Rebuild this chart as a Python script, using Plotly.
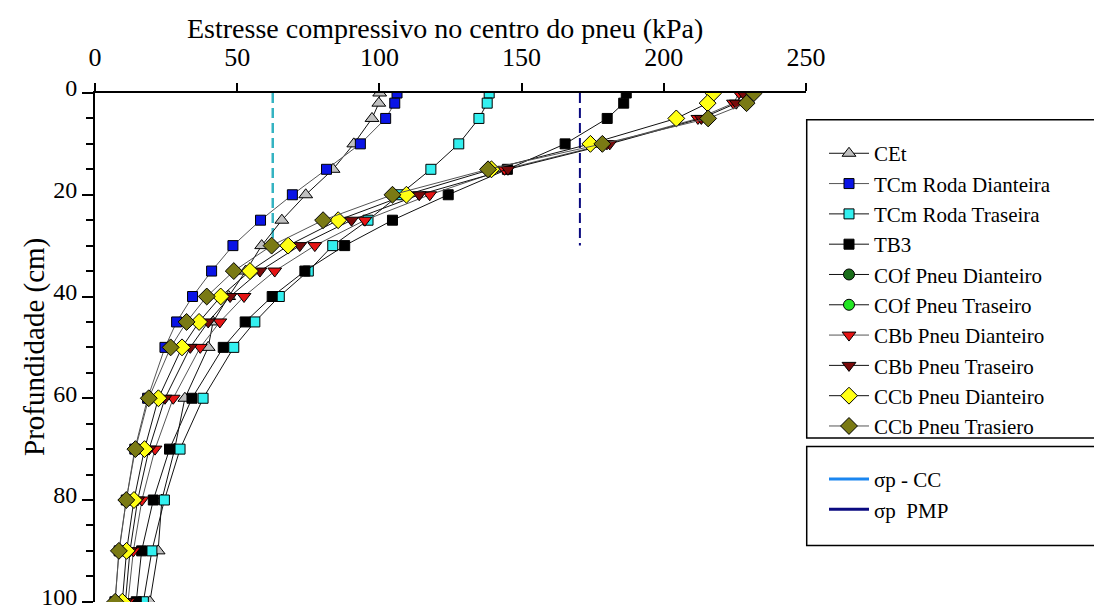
import plotly.graph_objects as go

depth = [0, 2, 5, 10, 15, 20, 25, 30, 35, 40, 45, 50, 60, 70, 80, 90, 100]

cet = [100.1, 99.8, 97.4, 91.0, 83.7, 74.1, 65.7, 58.6, 53.0, 47.0, 41.5, 39.8, 31.6, 28.0, 23.5, 22.2, 19.3]
tcm_dianteira = [106.2, 105.4, 102.2, 93.3, 81.4, 69.4, 58.2, 48.5, 41.0, 34.3, 28.7, 24.6, 18.5, 14.0, 11.0, 8.5, 7.0]
tcm_traseira = [138.6, 137.9, 135.0, 127.9, 118.1, 107.0, 96.0, 83.6, 75.0, 64.8, 56.2, 48.8, 38.0, 29.9, 24.4, 20.0, 17.0]
tb3 = [186.8, 185.9, 180.1, 165.3, 145.0, 124.2, 104.6, 87.8, 73.8, 62.3, 52.8, 45.1, 34.1, 26.2, 20.5, 16.4, 14.5]
cof_dianteiro = [None]
cof_traseiro = [None]
cbb_dianteiro = [226.5, 224.5, 212.0, 180.0, 144.0, 117.7, 94.9, 77.3, 63.2, 52.4, 43.9, 37.0, 27.5, 21.1, 16.5, 13.5, 11.6]
cbb_traseiro = [227.8, 225.5, 213.2, 181.0, 145.2, 114.0, 90.2, 72.0, 58.0, 47.5, 39.8, 33.5, 24.6, 19.0, 15.0, 12.3, 10.7]
ccb_dianteiro = [217.4, 215.4, 204.4, 174.2, 139.4, 109.5, 85.5, 67.9, 54.5, 44.2, 36.6, 30.6, 22.3, 17.4, 13.7, 11.1, 9.6]
ccb_trasiero = [231.7, 229.1, 215.6, 178.4, 138.2, 104.6, 80.2, 62.1, 48.8, 39.3, 32.2, 26.6, 18.9, 14.2, 11.0, 8.4, 7.1]

y_ticks = [0, 20, 40, 60, 80, 100]
x_ticks = [0, 50, 100, 150, 200, 250]

sigma_cc = 62.5
sigma_pmp = 170.5
sigma_depth = [0, 30]

FONT = "'Liberation Serif', 'Times New Roman', Times, serif"

fig = go.Figure()

fig.add_trace(go.Scatter(x=[sigma_cc, sigma_cc], y=sigma_depth, mode="lines",
                         line=dict(color="#35b3c2", width=2.5, dash="10px,5px"),
                         showlegend=False, hoverinfo="skip"))
fig.add_trace(go.Scatter(x=[sigma_pmp, sigma_pmp], y=sigma_depth, mode="lines",
                         line=dict(color="#0a0a80", width=2, dash="10px,5px"),
                         showlegend=False, hoverinfo="skip"))

series = [
    ("CEt", cet, "triangle-up", "#c0c0c0", 12, "#111111"),
    ("TCm Roda Dianteira", tcm_dianteira, "square", "#0a14e6", 10, "#555555"),
    ("TCm Roda Traseira", tcm_traseira, "square", "#33f0f0", 10, "#111111"),
    ("TB3", tb3, "square", "#000000", 10, "#111111"),
    ("COf Pneu Dianteiro", cof_dianteiro, "circle", "#1a6e1a", 11, "#111111"),
    ("COf Pneu Traseiro", cof_traseiro, "circle", "#22e622", 11, "#111111"),
    ("CBb Pneu Dianteiro", cbb_dianteiro, "triangle-down", "#e61414", 12, "#555555"),
    ("CBb Pneu Traseiro", cbb_traseiro, "triangle-down", "#7a0a0a", 12, "#111111"),
    ("CCb Pneu Dianteiro", ccb_dianteiro, "diamond", "#ffff14", 13, "#111111"),
    ("CCb Pneu Trasiero", ccb_trasiero, "diamond", "#7a7a14", 13, "#555555"),
]

for name, vals, sym, col, size, lcol in series:
    yv = depth if vals[0] is not None else [None]
    fig.add_trace(go.Scatter(
        x=vals, y=yv, name=name, mode="lines+markers",
        line=dict(color=lcol, width=1),
        marker=dict(symbol=sym, color=col, size=size, line=dict(color="#000000", width=1)),
        legend="legend",
    ))

fig.add_trace(go.Scatter(x=[None], y=[None], name="σp - CC", mode="lines",
                         line=dict(color="#1a86f0", width=3), legend="legend2"))
fig.add_trace(go.Scatter(x=[None], y=[None], name="σp  PMP", mode="lines",
                         line=dict(color="#0a0a80", width=3), legend="legend2"))

leg_common = dict(
    xanchor="left", yanchor="top",
    borderwidth=0, bgcolor="rgba(0,0,0,0)",
    indentation=18, itemwidth=40,
    tracegroupgap=0,
    font=dict(size=21, family=FONT),
    title=dict(text="\u00a0", font=dict(size=8, family=FONT)),
)

frames = [
    dict(type="rect", xref="paper", yref="paper", x0=1.001, x1=1.5, y0=0.322, y1=0.9475,
         line=dict(color="black", width=1.5), fillcolor="white", layer="below"),
    dict(type="rect", xref="paper", yref="paper", x0=1.001, x1=1.5, y0=0.1108, y1=0.3055,
         line=dict(color="black", width=1.5), fillcolor="white", layer="below"),
]

fig.update_layout(
    width=1094, height=612,
    margin=dict(l=95, r=288, t=92.5, b=9.5, autoexpand=False),
    paper_bgcolor="white", plot_bgcolor="white",
    font=dict(family=FONT, color="black", size=22),
    shapes=frames,
    xaxis=dict(
        side="top", range=[0, 250], tickmode="array", tickvals=x_ticks,
        showline=True, linecolor="black", linewidth=2,
        ticks="outside", ticklen=8, tickwidth=2, tickcolor="black",
        ticklabelstandoff=7,
        showgrid=False, zeroline=False,
        tickfont=dict(size=26, family=FONT),
    ),
    yaxis=dict(
        range=[100.05, 0], tickmode="array", tickvals=y_ticks,
        showline=True, linecolor="black", linewidth=2,
        ticks="outside", ticklen=11, tickwidth=2, tickcolor="black",
        ticklabeloverflow="allow", ticklabelshift=5,
        minor=dict(dtick=5, tick0=0, ticks="outside", ticklen=7, tickwidth=2,
                   tickcolor="black", showgrid=False),
        showgrid=False, zeroline=False,
        tickfont=dict(size=24, family=FONT),
    ),
    annotations=[
        dict(text="Estresse compressivo no centro do pneu (kPa)", xref="paper", yref="paper",
             x=0.4923, y=1.1265, xanchor="center", yanchor="middle", showarrow=False,
             font=dict(size=28, family=FONT)),
        dict(text="Profundidade (cm)", xref="paper", yref="paper", textangle=-90,
             x=-0.0844, y=0.501, xanchor="center", yanchor="middle", showarrow=False,
             font=dict(size=29, family=FONT)),
    ],
    legend=dict(x=1.0, y=0.9416, **leg_common),
    legend2=dict(x=1.0, y=0.3016, **leg_common),
)

fig.write_html("out.html")
